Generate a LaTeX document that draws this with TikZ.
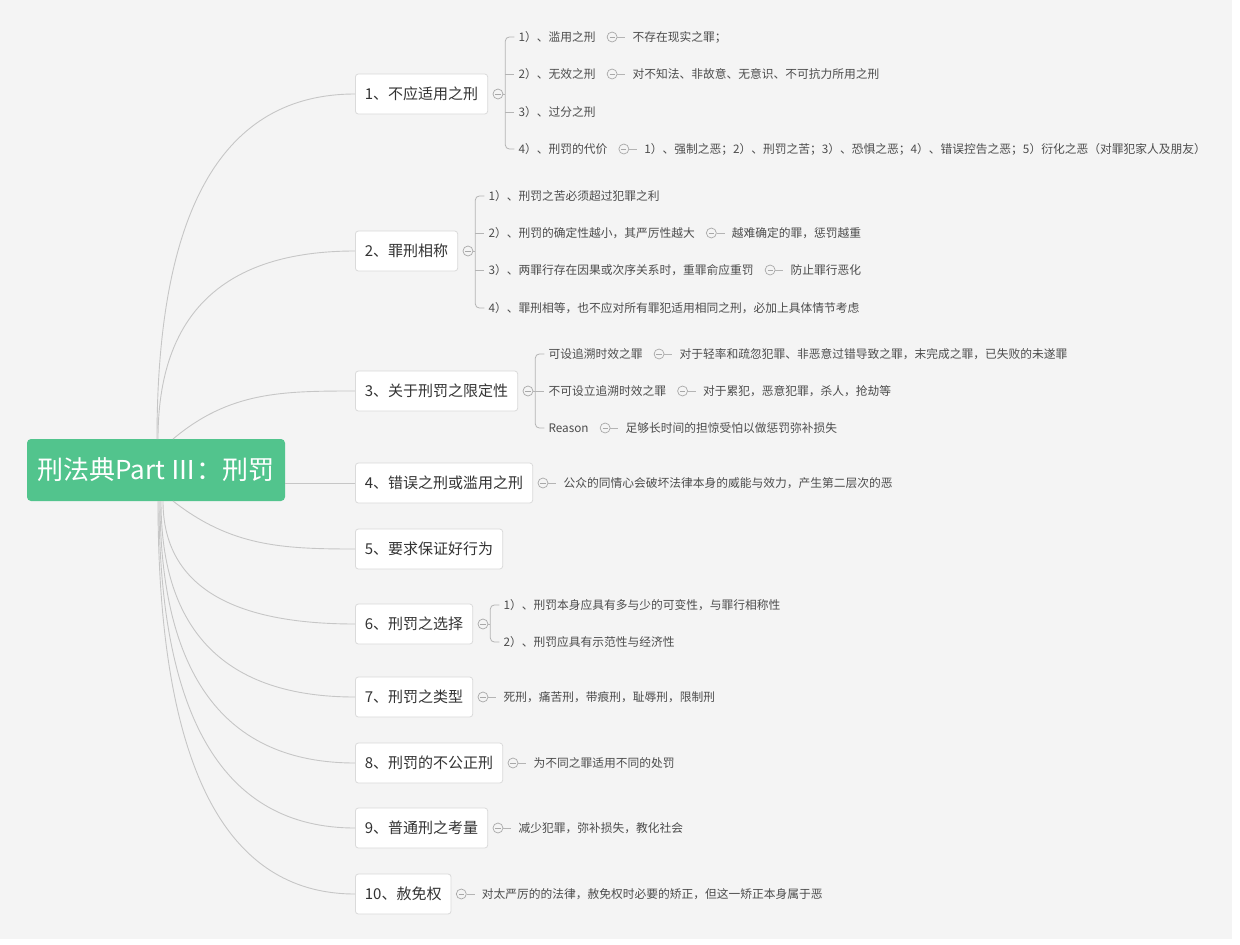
\documentclass[tikz,border=0pt]{standalone}
\usepackage{fontspec}
\newfontfamily\cjk{Noto Sans CJK SC}
\usetikzlibrary{calc,positioning}
\definecolor{bg}{HTML}{F4F4F4}
\definecolor{rootgreen}{HTML}{52C48D}
\definecolor{linec}{HTML}{C6C6C6}
\definecolor{brc}{HTML}{B4B4B4}
\definecolor{brd}{HTML}{DADADA}
\definecolor{txt}{HTML}{333333}
\definecolor{subtxt}{HTML}{4C4C4C}
\definecolor{circc}{HTML}{A8A8A8}
\newcommand\qcurve[2]{\draw[conn] (#1) .. controls ($(#1)!0.667!(#1 |- #2)$) and ($(#2)!0.667!(#1 |- #2)$) .. (#2);}
\begin{document}
\begin{tikzpicture}[x=1pt,y=-1pt,
  conn/.style={draw=linec,line width=0.9pt},
  bl/.style={draw=brc,line width=0.8pt},
  br/.style={draw=brd,fill=white,rounded corners=3pt,font=\cjk\fontsize{15}{18}\selectfont,text=txt,inner xsep=9.5pt,inner ysep=0pt,minimum height=40pt,anchor=west,line width=0.8pt},
  sub/.style={font=\cjk\fontsize{11.75}{14}\selectfont,text=subtxt,inner xsep=4pt,inner ysep=2pt,anchor=west},
  col/.style={circle,draw=circc,line width=0.7pt,minimum size=10pt,inner sep=0pt,
    path picture={\draw[circc,line width=0.7pt] ([xshift=-2.6pt]path picture bounding box.center) -- ([xshift=2.6pt]path picture bounding box.center);}},
]
\fill[white] (0,0) rectangle (1240,945);
\fill[bg] (0,0) rectangle (1232,939);
\useasboundingbox (0,0) rectangle (1240,945);

% root
\node[fill=rootgreen,rounded corners=4pt,minimum width=258pt,minimum height=62pt,inner sep=0pt,
      font=\cjk\fontsize{26}{30}\selectfont,text=white] (root) at (156,470) {刑法典Part Ⅲ：刑罚};

% branches
\node[br] (b1) at (355,94) {1、不应适用之刑};
\node[br] (b2) at (355,251) {2、罪刑相称};
\node[br] (b3) at (355,391) {3、关于刑罚之限定性};
\node[br] (b4) at (355,483) {4、错误之刑或滥用之刑};
\node[br] (b5) at (355,549) {5、要求保证好行为};
\node[br] (b6) at (355,624) {6、刑罚之选择};
\node[br] (b7) at (355,697) {7、刑罚之类型};
\node[br] (b8) at (355,763) {8、刑罚的不公正刑};
\node[br] (b9) at (355,828) {9、普通刑之考量};
\node[br] (b10) at (355,894) {10、赦免权};

% root connectors
\coordinate (r1) at (157,439);
\coordinate (r2) at (158,439);
\coordinate (r3) at (173,439);
\coordinate (r5) at (173,501);
\coordinate (r6) at (163,501);
\coordinate (r7) at (161,501);
\coordinate (r8) at (160,501);
\coordinate (r9) at (159,501);
\coordinate (r10) at (158,501);
\qcurve{r1}{b1.west}
\qcurve{r2}{b2.west}
\draw[conn] (r3) to[out=40,in=180] (b3.west);
\draw[conn] (b4.west -| root.east) -- (b4.west);
\draw[conn] (r5) to[out=-38,in=180] (b5.west);
\qcurve{r6}{b6.west}
\qcurve{r7}{b7.west}
\qcurve{r8}{b8.west}
\qcurve{r9}{b9.west}
\qcurve{r10}{b10.west}

% ---------- branch 1
\node[col,right=4.5pt of b1] (c1) {};
\coordinate (k1) at ([xshift=2pt]c1.east);
\coordinate (t1) at ([xshift=11pt]c1.east);
\node[sub] (s11) at (t1 |- 0,37) {1）、滥用之刑};
\node[sub] (s12) at (t1 |- 0,74) {2）、无效之刑};
\node[sub] (s13) at (t1 |- 0,112) {3）、过分之刑};
\node[sub] (s14) at (t1 |- 0,149) {4）、刑罚的代价};
\draw[bl] (c1.east) -- (k1);
\draw[bl,rounded corners=4pt] (s11.west) -- (s11.west -| k1) -- (s14.west -| k1) -- (s14.west);
\draw[bl] (s12.west -| k1) -- (s12.west);
\draw[bl] (s13.west -| k1) -- (s13.west);
\node[col,right=7pt of s11] (cc11) {};
\node[sub,right=11pt of cc11] (l11) {不存在现实之罪；};
\draw[bl,shorten >=3pt] (cc11.east) -- (l11.west);
\node[col,right=7pt of s12] (cc12) {};
\node[sub,right=11pt of cc12] (l12) {对不知法、非故意、无意识、不可抗力所用之刑};
\draw[bl,shorten >=3pt] (cc12.east) -- (l12.west);
\node[col,right=7pt of s14] (cc14) {};
\node[sub,right=11pt of cc14] (l14) {1）、强制之恶；2）、刑罚之苦；3）、恐惧之恶；4）、错误控告之恶；5）衍化之恶（对罪犯家人及朋友）};
\draw[bl,shorten >=3pt] (cc14.east) -- (l14.west);

% ---------- branch 2
\node[col,right=4.5pt of b2] (c2) {};
\coordinate (k2) at ([xshift=2pt]c2.east);
\coordinate (t2) at ([xshift=11pt]c2.east);
\node[sub] (s21) at (t2 |- 0,196) {1）、刑罚之苦必须超过犯罪之利};
\node[sub] (s22) at (t2 |- 0,233) {2）、刑罚的确定性越小，其严厉性越大};
\node[sub] (s23) at (t2 |- 0,270) {3）、两罪行存在因果或次序关系时，重罪俞应重罚};
\node[sub] (s24) at (t2 |- 0,308) {4）、罪刑相等，也不应对所有罪犯适用相同之刑，必加上具体情节考虑};
\draw[bl] (c2.east) -- (k2);
\draw[bl,rounded corners=4pt] (s21.west) -- (s21.west -| k2) -- (s24.west -| k2) -- (s24.west);
\draw[bl] (s22.west -| k2) -- (s22.west);
\draw[bl] (s23.west -| k2) -- (s23.west);
\node[col,right=7pt of s22] (cc22) {};
\node[sub,right=11pt of cc22] (l22) {越难确定的罪，惩罚越重};
\draw[bl,shorten >=3pt] (cc22.east) -- (l22.west);
\node[col,right=7pt of s23] (cc23) {};
\node[sub,right=11pt of cc23] (l23) {防止罪行恶化};
\draw[bl,shorten >=3pt] (cc23.east) -- (l23.west);

% ---------- branch 3
\node[col,right=4.5pt of b3] (c3) {};
\coordinate (k3) at ([xshift=2pt]c3.east);
\coordinate (t3) at ([xshift=11pt]c3.east);
\node[sub] (s31) at (t3 |- 0,354) {可设追溯时效之罪};
\node[sub] (s32) at (t3 |- 0,391) {不可设立追溯时效之罪};
\node[sub] (s33) at (t3 |- 0,428) {Reason};
\draw[bl] (c3.east) -- (k3);
\draw[bl,rounded corners=4pt] (s31.west) -- (s31.west -| k3) -- (s33.west -| k3) -- (s33.west);
\draw[bl] (s32.west -| k3) -- (s32.west);
\node[col,right=7pt of s31] (cc31) {};
\node[sub,right=11pt of cc31] (l31) {对于轻率和疏忽犯罪、非恶意过错导致之罪，末完成之罪，已失败的未遂罪};
\draw[bl,shorten >=3pt] (cc31.east) -- (l31.west);
\node[col,right=7pt of s32] (cc32) {};
\node[sub,right=11pt of cc32] (l32) {对于累犯，恶意犯罪，杀人，抢劫等};
\draw[bl,shorten >=3pt] (cc32.east) -- (l32.west);
\node[col,right=7pt of s33] (cc33) {};
\node[sub,right=11pt of cc33] (l33) {足够长时间的担惊受怕以做惩罚弥补损失};
\draw[bl,shorten >=3pt] (cc33.east) -- (l33.west);

% ---------- branch 4
\node[col,right=4.5pt of b4] (c4) {};
\node[sub,right=11pt of c4] (l4) {公众的同情心会破坏法律本身的威能与效力，产生第二层次的恶};
\draw[bl,shorten >=3pt] (c4.east) -- (l4.west);

% ---------- branch 6
\node[col,right=4.5pt of b6] (c6) {};
\coordinate (k6) at ([xshift=2pt]c6.east);
\coordinate (t6) at ([xshift=11pt]c6.east);
\node[sub] (s61) at (t6 |- 0,605) {1）、刑罚本身应具有多与少的可变性，与罪行相称性};
\node[sub] (s62) at (t6 |- 0,642) {2）、刑罚应具有示范性与经济性};
\draw[bl] (c6.east) -- (k6);
\draw[bl,rounded corners=4pt] (s61.west) -- (s61.west -| k6) -- (s62.west -| k6) -- (s62.west);

% ---------- branches 7-10
\node[col,right=4.5pt of b7] (c7) {};
\node[sub,right=11pt of c7] (l7) {死刑，痛苦刑，带痕刑，耻辱刑，限制刑};
\draw[bl,shorten >=3pt] (c7.east) -- (l7.west);
\node[col,right=4.5pt of b8] (c8) {};
\node[sub,right=11pt of c8] (l8) {为不同之罪适用不同的处罚};
\draw[bl,shorten >=3pt] (c8.east) -- (l8.west);
\node[col,right=4.5pt of b9] (c9) {};
\node[sub,right=11pt of c9] (l9) {减少犯罪，弥补损失，教化社会};
\draw[bl,shorten >=3pt] (c9.east) -- (l9.west);
\node[col,right=4.5pt of b10] (c10) {};
\node[sub,right=11pt of c10] (l10) {对太严厉的的法律，赦免权时必要的矫正，但这一矫正本身属于恶};
\draw[bl,shorten >=3pt] (c10.east) -- (l10.west);
\end{tikzpicture}
\end{document}
